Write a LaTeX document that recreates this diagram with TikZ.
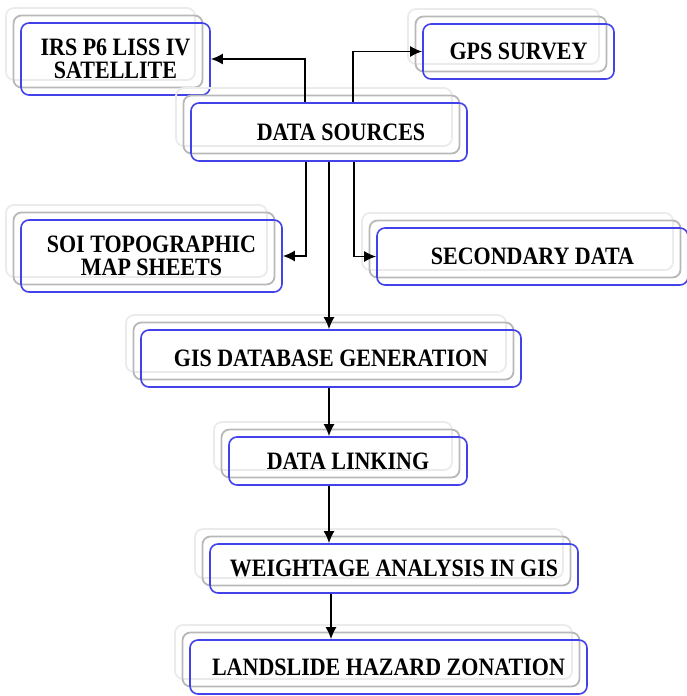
\documentclass[tikz,border=0pt]{standalone}
\usepackage{fontspec}
\setmainfont{Liberation Serif}[FakeStretch=0.88]
\usepackage{tikz}
\usetikzlibrary{arrows.meta, positioning, shadows}

\definecolor{boxblue}{RGB}{66,66,235}

\tikzset{
  stage/.style={draw=boxblue, line width=1.6pt, rounded corners=8pt,
    align=center, inner sep=2pt,
    font=\bfseries\fontsize{25}{23}\selectfont,
    general shadow={draw=black!8, line width=1.8pt,
      shadow xshift=-15pt, shadow yshift=15pt},
    general shadow={draw=black!28, line width=1.8pt,
      shadow xshift=-7.5pt, shadow yshift=7.5pt}},
  flow/.style={-{Latex[length=12pt,width=11pt]}, line width=1.8pt}
}

\begin{document}
\begin{tikzpicture}[x=1pt, y=-1pt]
\useasboundingbox (0,0) rectangle (686,696);

% sources
\node[stage, minimum width=189pt, minimum height=72pt] (irs) at (115.5,59) {IRS P6 LISS IV\\SATELLITE};
\node[stage, minimum width=191pt, minimum height=55pt] (gps) at (518.5,51.5) {GPS SURVEY};
\node[stage, minimum width=276pt, minimum height=58pt] (ds)  at (329,132) {\hspace{24pt}DATA SOURCES};
\node[stage, minimum width=261pt, minimum height=72pt] (soi) at (151.5,256) {SOI TOPOGRAPHIC\\MAP SHEETS};
\node[stage, minimum width=311pt, minimum height=57pt] (sec) at (532.5,256.5) {SECONDARY DATA};

% processing chain
\node[stage, minimum width=380pt, minimum height=57pt] (gis) at (331,358.5) {GIS DATABASE GENERATION};
\node[stage, minimum width=238pt, minimum height=48pt] (dl)  at (348,461) {DATA LINKING};
\node[stage, minimum width=368pt, minimum height=49pt] (wa)  at (394,568.5) {WEIGHTAGE ANALYSIS IN GIS};
\node[stage, minimum width=397pt, minimum height=54pt] (lhz) at (388.5,667) {LANDSLIDE HAZARD ZONATION};

\draw[flow] ([xshift=-24pt]ds.north) |- (irs.east);
\draw[flow] ([xshift=24pt]ds.north) |- (gps.west);
\draw[flow] ([xshift=-23pt]ds.south) |- (soi.east);
\draw[flow] ([xshift=25pt]ds.south) |- (sec.west);

\draw[flow] (ds.south) -- (ds.south |- gis.north);
\draw[flow] (ds.south |- gis.south) -- (ds.south |- dl.north);
\draw[flow] (ds.south |- dl.south) -- (ds.south |- wa.north);
\draw[flow] ([xshift=2pt]ds.south |- wa.south) -- ([xshift=2pt]ds.south |- lhz.north);

\end{tikzpicture}
\end{document}
